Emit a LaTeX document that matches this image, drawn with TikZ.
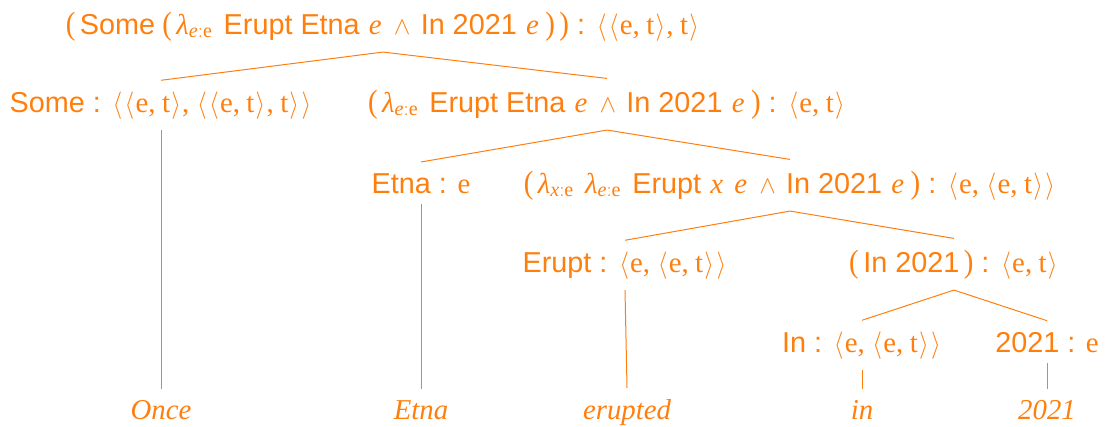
\documentclass[tikz,border=0pt]{standalone}
\usepackage{fontspec}
\usepackage{graphicx}
\setmainfont{Liberation Serif}
\setsansfont{Liberation Sans}
\definecolor{treeorange}{RGB}{255,127,14}

% sans constants, italic variables, lambda with typed binder, angle-bracket types
\newcommand\sw[1]{\textsf{#1}}
\newcommand\vb[1]{\kern2pt\relax\textit{#1}\kern2pt\relax}
\newcommand\lam[1]{\textit{λ}$_{\mathit{#1}{:}\mathrm{e}}$\kern4pt\relax}
\newcommand\tall[1]{\scalebox{1}[1.1]{$#1$}}
\newcommand\tallp[1]{\scalebox{1}[1.12]{#1}}
\newcommand\ang[1]{\kern1.2pt\relax\tall{\langle}\kern1.2pt\relax#1\kern1.2pt\relax\tall{\rangle}\kern1.2pt\relax}
\newcommand\cm{,\kern6.5pt\relax}
\newcommand\lp{\tallp{(}\kern4.5pt\relax}
\newcommand\rp{\kern4.5pt\relax\tallp{)}}
\newcommand\hasty{\sw{ : }}
\newcommand\andop{ \kern3pt\relax$\wedge$\kern3pt\relax{} }

\tikzset{
  lbl/.style={anchor=base, inner sep=11pt, text=treeorange,
    font=\fontsize{28.8}{34}\selectfont},
  leaf/.style={lbl, font=\fontsize{28.8}{34}\selectfont\itshape},
  edge/.style={draw=treeorange, line width=1pt}
}

\begin{document}
\begin{tikzpicture}[x=1pt, y=-1pt]
\useasboundingbox (0,0) rectangle (1105,426);

% root
\node[lbl] (root) at (383,34)
  {\lp\sw{Some} \lp\lam{e} \sw{Erupt Etna} \vb{e}\andop\sw{In 2021} \vb{e}\rp\rp\hasty\ang{\ang{e\cm t}\cm t}};

% level 1
\node[lbl] (some) at (161,112)
  {\sw{Some}\hasty\ang{\ang{e\cm t}\cm\ang{\ang{e\cm t}\cm t}}};
\node[lbl] (pred) at (607,112)
  {\lp\lam{e} \sw{Erupt Etna} \vb{e}\andop\sw{In 2021} \vb{e}\rp\hasty\ang{e\cm t}};

% level 2
\node[lbl] (etna) at (421,193) {\sw{Etna}\hasty e};
\node[lbl] (rel) at (790,193)
  {\lp\lam{x} \lam{e} \sw{Erupt} \vb{x} \vb{e}\andop\sw{In 2021} \vb{e}\rp\hasty\ang{e\cm\ang{e\cm t}}};

% level 3
\node[lbl] (erupt) at (625,272) {\sw{Erupt}\hasty\ang{e\cm\ang{e\cm t}}};
\node[lbl] (in2021) at (954,272) {\lp\sw{In 2021}\rp\hasty\ang{e\cm t}};

% level 4
\node[lbl] (in) at (862,352) {\sw{In}\hasty\ang{e\cm\ang{e\cm t}}};
\node[lbl] (year) at (1047,352) {\sw{2021}\hasty e};

% words
\node[leaf] (w1) at (161,419) {Once};
\node[leaf] (w2) at (421,419) {Etna};
\node[leaf] (w3) at (627,419) {erupted};
\node[leaf] (w4) at (862,419) {in};
\node[leaf] (w5) at (1047,419) {2021};

% branches
\draw[edge] (some.north) -- (root.south) -- (pred.north);
\draw[edge] (etna.north) -- (pred.south) -- (rel.north);
\draw[edge] (erupt.north) -- (rel.south) -- (in2021.north);
\draw[edge] (in.north) -- (in2021.south) -- (year.north);

% lexical links
\draw[edge] (some.south) -- (w1.north);
\draw[edge] (etna.south) -- (w2.north);
\draw[edge] (erupt.south) -- (w3.north);
\draw[edge] (in.south) -- (w4.north);
\draw[edge] (year.south) -- (w5.north);
\end{tikzpicture}
\end{document}
